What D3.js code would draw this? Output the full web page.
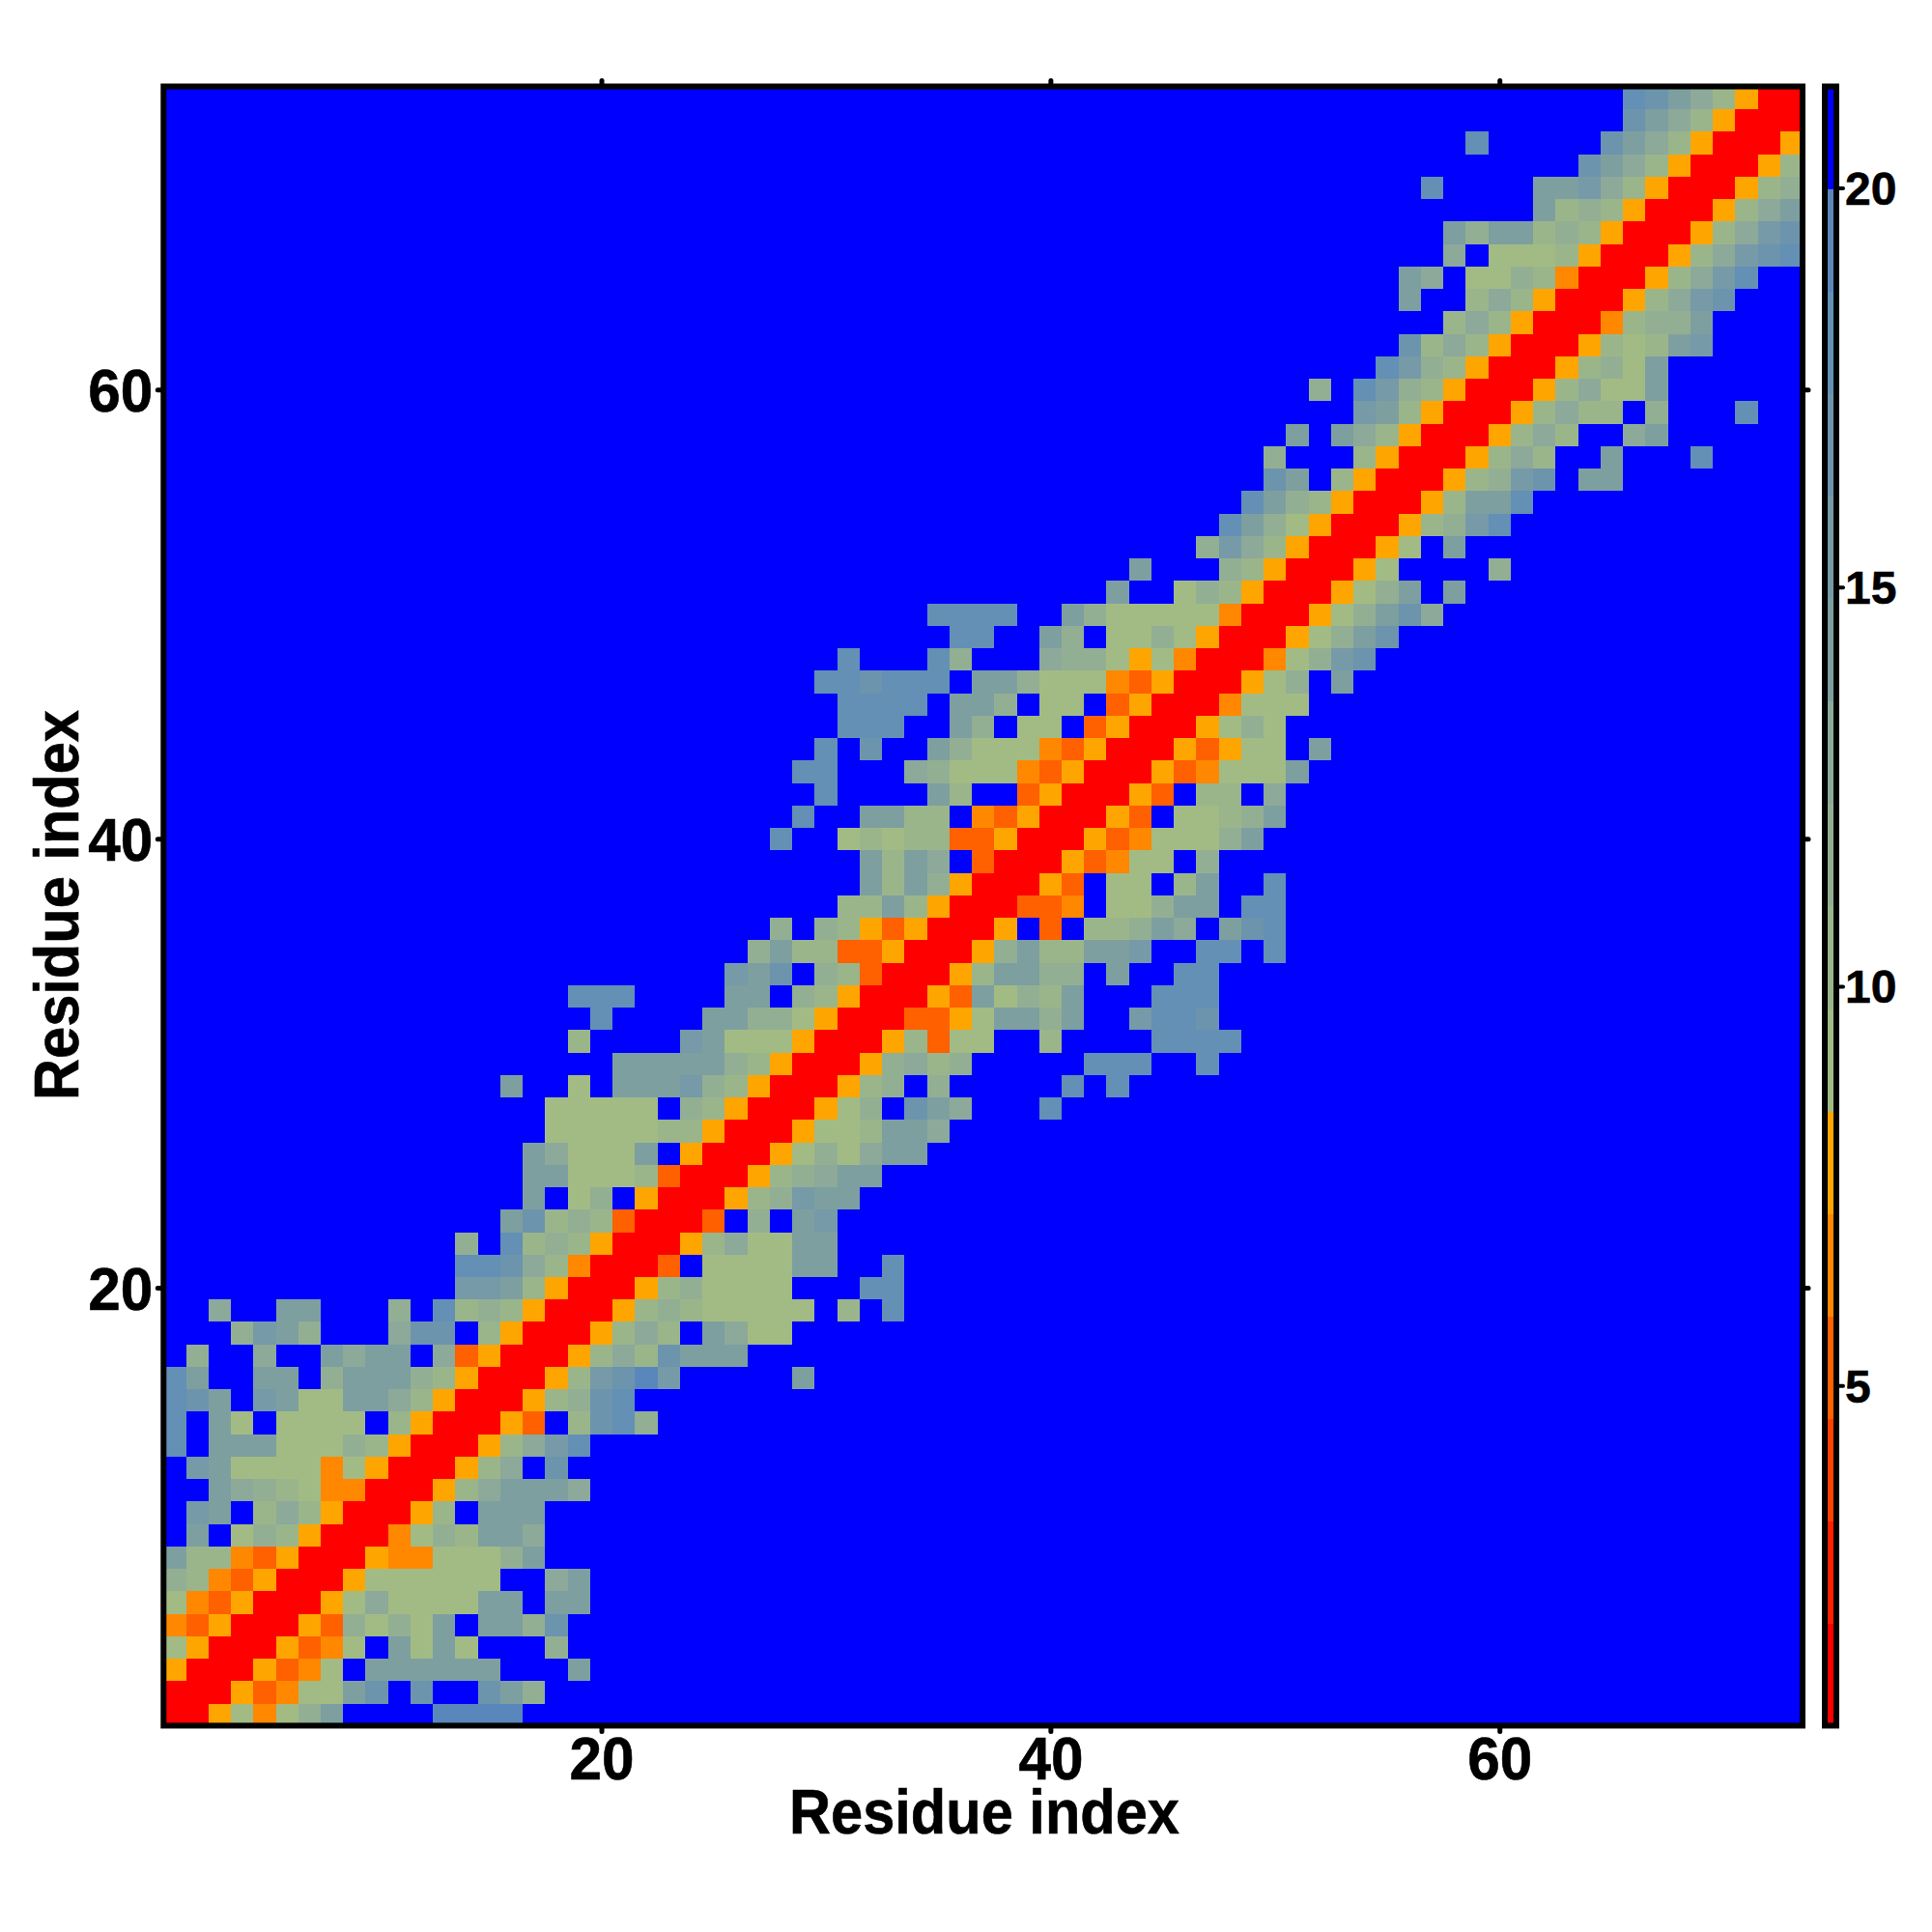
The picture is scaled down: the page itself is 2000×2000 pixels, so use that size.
<!DOCTYPE html>
<html><head><meta charset="utf-8">
<script src="https://cdn.jsdelivr.net/npm/d3@7"></script>
<style>html,body{margin:0;padding:0;background:#fff}svg{display:block}
text{font-family:"Liberation Sans",Arial,sans-serif;font-weight:700;fill:#000;stroke:#000;stroke-width:.6px}</style>
</head><body><svg id="c" width="2000" height="2000"></svg>
<script>
// First column of the listed run in each row (row 1 is the bottom row)
const rowStart = [1,1,1,1,1,1,1,1,1,1,1,1,1,1,1,1,1,1,1,14,14,14,16,17,17,17,18,18,16,21,19,20,19,26,27,28,31,32,32,28,29,30,29,30,31,31,30,31,36,35,43,44,47,48,49,50,50,51,54,52,55,56,58,56,56,58,58,62,57,64,59,66,66];
// Colour-bar bin of each cell, hex digit 0-e; "." and unlisted cells are the top bin (f)
const rowCells = [
"0056468a....eeee","00053466ac.c..ca8","50005346.aaaaaa...a","650005346.a6a6...8","435000538686a.aa8c",
"64350005696666aa.aa","874350005666666..9a","a774350005446668a",".a.68750004687aa9",".ba.797500057.aaa",
"..a987644000579aaa9",".ba6666465000579.c","d.aaa666875000579bd","d.a6.6666.7500053.7cd8","dca.ba66aa975000578cd",
"da..aa.8aaa87500057bceb.....a",".8..9..a9aa.9350005797caaa","...8ba8...9cc.750005797.a966","..9..aa...8.d7875000578766666.7.d","bba750005786666...dd",
"ddc9740003.6666aa..d","8.d787500057966aa","ac78730003.8.ab","a.68.5000578baa","aa666730005789aa",
"a9666a.500056869aa","666667750005667aa9","66666.875000568.ca9...d","a..6.aaab875000578.8.....d.d","aaaaa87500058978.....ddd..d",
"7....ba666500057366..7....dddd","d....aa88650003356aa8a..bddc","ddd....aa.87500053a687a...ddd","bac.87300057aa88.a..dd","8a7733500058a77aab..dd.d",
"8.875350005.3.778a9.acd","77a75000334.668aa.dd","a7a8500053.66.7a..d","a7a9.300053466.8","d..676773350005346668a",
"d..aa77.43500053.6678a","d....a7..3500053.77.9","dd...98666435000534666a","d.c..a866643500053566.a","ddd..a8.66.350005686",
"dddd.aa8.66.350004666","ddcddd.aa8666435000568.a","d...d8...9886564000468bc","dd..a8.66865000568ac","dddd..a8666664000568ac9",
"a..6875000568a.a","a...87500056....8","8b97500056.a","da865000578bd","da87500057aad",
"ca.75000578bc.aa","8...750005797..a...d","a.a9750005797..9a","ba7500057977.8...d","8.db87500057966a",
"db8750005786a","c79750005767ab","79750004788a","a..7975000579bc","a9.66874000579bd",
"9.66675000579bcd","a8aa7875000579bc","a7875000579a","d....aab975000578","ca97500057",
"d.....ca9750005","ca975000","dca97500"];
const residueCount = 73;
const axisTicks = [20,40,60];
const barTicks = [5,10,15,20];
const barDomain = [0.74,21.27];
const warmColours = ["#ff0000","#ff2000","#ff4000","#ff6000","#ff8800","#ffa500"];
const midColours = ["#a2bb84","#9bb58b","#93af93","#8ca99a","#7e9fa0","#769aa7","#6d94ad","#6390b4","#5a87bb"];
const topColour = "#0000ff";
const axisTitle = "Residue index";

const frame = {left:169.3,right:1866,top:89.5,bottom:1786.4};
const bar = {left:1889,right:1901};
const svg = d3.select("#c");
const x = d3.scaleLinear().domain([0.5,residueCount+0.5]).range([frame.left,frame.right]);
const y = d3.scaleLinear().domain([0.5,residueCount+0.5]).range([frame.bottom,frame.top]);
const colour = d3.scaleQuantize().domain(barDomain).range([...warmColours,...midColours,topColour]);
const palette = colour.range();

const cells = [];
d3.range(1,residueCount+1).forEach(row=>{
  const run = rowCells[row-1], start = rowStart[row-1];
  d3.range(1,residueCount+1).forEach(col=>{
    const ch = run[col-start];
    const bin = (col>=start && ch && ch!==".") ? parseInt(ch,16) : 15;
    const [a,b] = colour.invertExtent(palette[bin]);
    cells.push({row,col,value:(a+b)/2});
  });
});
svg.append("g").attr("shape-rendering","crispEdges").selectAll("rect").data(cells).join("rect")
  .attr("x",d=>x(d.col-0.5)).attr("y",d=>y(d.row+0.5))
  .attr("width",d=>x(d.col+0.5)-x(d.col-0.5)+0.5).attr("height",d=>y(d.row-0.5)-y(d.row+0.5)+0.5)
  .attr("fill",d=>colour(d.value));

function styleAxis(g){
  g.select(".domain").remove();
  g.selectAll(".tick line").attr("stroke","#000").attr("stroke-width",5).attr("stroke-linecap","round");
  g.selectAll(".tick text").style("font-size","63px").style("font-family",'"Liberation Sans",Arial,sans-serif').style("font-weight",700).attr("fill","#000")
    .attr("textLength",67).attr("lengthAdjust","spacingAndGlyphs");
}
const tick = 6;
const fmt = d3.format("d");
svg.append("g").attr("transform",`translate(0,${frame.bottom})`)
  .call(d3.axisBottom(x).tickValues(axisTicks).tickFormat(fmt).tickSize(tick)).call(styleAxis)
  .selectAll(".tick text").attr("y",56).attr("dy",0);
svg.append("g").attr("transform",`translate(${frame.left},0)`)
  .call(d3.axisLeft(y).tickValues(axisTicks).tickFormat(fmt).tickSize(tick)).call(styleAxis)
  .selectAll(".tick text").attr("x",-11).attr("dy","0.35em");
svg.append("g").attr("transform",`translate(0,${frame.top})`)
  .call(d3.axisTop(x).tickValues(axisTicks).tickFormat("").tickSize(tick)).call(styleAxis);
svg.append("g").attr("transform",`translate(${frame.right},0)`)
  .call(d3.axisRight(y).tickValues(axisTicks).tickFormat("").tickSize(tick)).call(styleAxis);
svg.append("rect").attr("x",frame.left).attr("y",frame.top)
  .attr("width",frame.right-frame.left).attr("height",frame.bottom-frame.top)
  .attr("fill","none").attr("stroke","#000").attr("stroke-width",6);

svg.append("text").attr("x",1019).attr("y",1898).attr("text-anchor","middle")
  .attr("textLength",404).attr("lengthAdjust","spacingAndGlyphs")
  .style("font-size","65px").text(axisTitle);
svg.append("text").attr("transform","translate(81,937) rotate(-90)").attr("text-anchor","middle")
  .attr("textLength",404).attr("lengthAdjust","spacingAndGlyphs")
  .style("font-size","65px").text(axisTitle);

// Colour bar
const by = d3.scaleLinear().domain(barDomain).range([frame.bottom,frame.top]);
svg.append("g").attr("shape-rendering","crispEdges").selectAll("rect").data(palette).join("rect")
  .attr("x",bar.left).attr("width",bar.right-bar.left)
  .attr("y",d=>by(colour.invertExtent(d)[1])).attr("height",d=>by(colour.invertExtent(d)[0])-by(colour.invertExtent(d)[1])+0.5)
  .attr("fill",d=>d);
const barAxis = svg.append("g").attr("transform",`translate(${bar.right},0)`)
  .call(d3.axisRight(by).tickValues(barTicks).tickFormat(fmt).tickSize(7).tickPadding(2));
barAxis.select(".domain").remove();
barAxis.selectAll(".tick line").attr("stroke","#000").attr("stroke-width",4).attr("stroke-linecap","round");
barAxis.selectAll(".tick text").style("font-size","48px").style("font-family",'"Liberation Sans",Arial,sans-serif').style("font-weight",700).attr("fill","#000").attr("dy","0.35em");
svg.append("rect").attr("x",bar.left).attr("y",frame.top).attr("width",bar.right-bar.left).attr("height",frame.bottom-frame.top)
  .attr("fill","none").attr("stroke","#000").attr("stroke-width",6);
</script></body></html>
